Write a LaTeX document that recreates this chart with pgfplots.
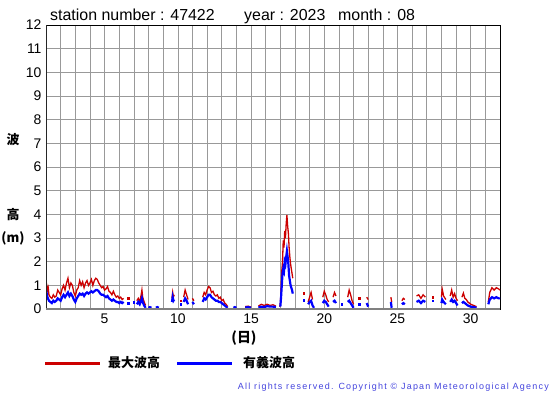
\documentclass[border=0pt]{standalone}
\usepackage{pgfplots}
\pgfplotsset{compat=1.18}
\usepackage{fontspec}
\setmainfont{Liberation Sans}
\newfontfamily\cjk{Noto Sans CJK JP}
\newfontfamily\cpy{Liberation Sans}[LetterSpace=14]
\definecolor{maxred}{HTML}{CC0000}
\definecolor{sigblue}{HTML}{0000FF}
\definecolor{gridgray}{HTML}{999999}
\definecolor{cpblue}{HTML}{4444DD}
\begin{document}
\begin{tikzpicture}[x=1bp,y=1bp]
\path[use as bounding box] (0,0) rectangle (555,395);
\begin{axis}[
  at={(46bp,86bp)}, anchor=south west,
  scale only axis, width=454bp, height=284bp,
  xmin=1, xmax=32, ymin=0, ymax=12,
  xtick={1,...,32},
  xticklabels={,,,,5,,,,,10,,,,,15,,,,,20,,,,,25,,,,,30,,},
  ytick={0,...,12},
  major tick length=0pt,
  grid=major,
  grid style={gridgray, line width=0.6bp},
  axis line style={black, line width=0.8bp},
  tick label style={font=\fontsize{14}{14}\selectfont},
  /pgf/number format/assume math mode=true,
  yticklabel style={xshift=-1bp},
  xticklabel style={yshift=-1bp},
  unbounded coords=jump,
  clip=true,
]
% maximum wave height (red)
\addplot[maxred, line width=1.3bp] table[row sep=\\] {
x y\\
1.00 0.85\\ 1.05 1.0\\ 1.1 0.8\\ 1.15 0.9\\ 1.2 0.6\\ 1.3 0.5\\ 1.4 0.45\\ 1.5 0.6\\ 1.6 0.5\\ 1.7 0.55\\ 1.8 0.8\\ 1.9 0.7\\ 2.0 0.6\\ 2.1 0.85\\ 2.2 1.0\\ 2.3 0.8\\ 2.4 1.1\\ 2.5 1.3\\ 2.6 0.9\\ 2.7 1.1\\ 2.8 1.0\\ 2.9 0.7\\ 3.0 0.55\\ 3.1 0.8\\ 3.2 0.9\\ 3.3 1.2\\ 3.4 1.0\\ 3.5 1.15\\ 3.6 0.9\\ 3.7 1.1\\ 3.8 1.2\\ 3.9 1.0\\ 4.0 1.1\\ 4.1 1.25\\ 4.2 1.0\\ 4.3 1.2\\ 4.4 1.3\\ 4.5 1.25\\ 4.6 1.1\\ 4.7 1.0\\ 4.8 0.9\\ 4.9 0.95\\ 5.0 0.8\\ 5.1 0.85\\ 5.2 0.95\\ 5.3 0.75\\ 5.4 0.7\\ 5.5 0.6\\ 5.6 0.75\\ 5.7 0.6\\ 5.8 0.5\\ 5.9 0.55\\ 6.0 0.45\\ 6.1 0.5\\ 6.2 0.4\\ 6.3 0.45\\
nan nan\\
7.2 0.35\\ 7.3 0.45\\ 7.4 0.3\\ 7.5 0.6\\ 7.55 0.8\\ 7.6 0.5\\ 7.7 0.3\\ 7.8 0.15\\
nan nan\\
9.6 0.45\\ 9.65 0.7\\ 9.7 0.5\\ 9.75 0.6\\
nan nan\\
10.4 0.5\\ 10.5 0.8\\ 10.6 0.6\\ 10.7 0.4\\
nan nan\\
11.0 0.45\\ 11.1 0.35\\
nan nan\\
11.7 0.5\\ 11.8 0.7\\ 11.9 0.6\\ 12.0 0.8\\ 12.1 0.95\\ 12.2 0.9\\ 12.3 0.7\\ 12.4 0.75\\ 12.5 0.6\\ 12.6 0.55\\ 12.7 0.6\\ 12.8 0.45\\ 12.9 0.5\\ 13.0 0.35\\ 13.1 0.4\\ 13.2 0.25\\ 13.3 0.2\\ 13.4 0.1\\
nan nan\\
14.6 0.1\\ 14.8 0.12\\ 15.0 0.08\\
nan nan\\
15.5 0.12\\ 15.7 0.2\\ 15.9 0.15\\ 16.1 0.2\\ 16.3 0.15\\ 16.5 0.18\\ 16.7 0.12\\
nan nan\\
16.95 0.1\\ 17.0 0.2\\ 17.05 0.8\\ 17.1 1.6\\ 17.15 2.0\\ 17.2 2.9\\ 17.25 2.6\\ 17.3 3.3\\ 17.35 3.0\\ 17.4 3.6\\ 17.45 3.97\\ 17.5 3.5\\ 17.55 3.2\\ 17.6 2.6\\ 17.65 2.2\\ 17.7 1.9\\ 17.75 1.7\\ 17.8 1.5\\ 17.85 1.3\\
nan nan\\
18.9 0.3\\ 19.0 0.5\\ 19.1 0.7\\ 19.2 0.4\\
nan nan\\
19.9 0.5\\ 20.0 0.75\\ 20.1 0.6\\ 20.2 0.4\\ 20.3 0.3\\
nan nan\\
20.6 0.5\\ 20.7 0.7\\ 20.8 0.55\\
nan nan\\
21.6 0.5\\ 21.7 0.8\\ 21.8 0.6\\ 21.9 0.35\\ 22.0 0.2\\
nan nan\\
22.9 0.5\\ 23.0 0.4\\
nan nan\\
24.55 0.5\\ 24.6 0.3\\
nan nan\\
25.3 0.35\\ 25.4 0.45\\ 25.5 0.4\\
nan nan\\
26.3 0.55\\ 26.45 0.6\\ 26.6 0.45\\ 26.75 0.6\\ 26.9 0.5\\
nan nan\\
28.0 0.5\\ 28.05 0.85\\ 28.15 0.55\\ 28.3 0.4\\
nan nan\\
28.6 0.55\\ 28.7 0.8\\ 28.8 0.5\\ 28.9 0.65\\ 29.0 0.45\\ 29.1 0.35\\
nan nan\\
29.4 0.5\\ 29.5 0.67\\ 29.6 0.45\\ 29.7 0.4\\ 29.8 0.3\\ 29.9 0.25\\ 30.0 0.2\\ 30.2 0.15\\ 30.4 0.1\\
nan nan\\
31.2 0.3\\ 31.3 0.7\\ 31.45 0.9\\ 31.6 0.8\\ 31.75 0.9\\ 31.9 0.85\\ 32.0 0.8\\
};
\addplot[only marks, mark=square*, mark size=0.8bp, maxred] table[row sep=\\] {
x y\\
6.6 0.45\\ 10.2 0.35\\ 18.6 0.67\\ 22.4 0.45\\ 27.4 0.5\\
};
% significant wave height (blue)
\addplot[sigblue, line width=2.2bp] table[row sep=\\] {
x y\\
1.0 0.55\\ 1.05 0.65\\ 1.1 0.5\\ 1.2 0.35\\ 1.3 0.3\\ 1.4 0.25\\ 1.5 0.35\\ 1.6 0.3\\ 1.7 0.35\\ 1.8 0.45\\ 1.9 0.4\\ 2.0 0.35\\ 2.1 0.5\\ 2.2 0.6\\ 2.3 0.5\\ 2.4 0.6\\ 2.5 0.7\\ 2.6 0.55\\ 2.7 0.65\\ 2.8 0.55\\ 2.9 0.4\\ 3.0 0.3\\ 3.1 0.45\\ 3.2 0.55\\ 3.3 0.65\\ 3.4 0.6\\ 3.5 0.65\\ 3.6 0.55\\ 3.7 0.65\\ 3.8 0.7\\ 3.9 0.65\\ 4.0 0.7\\ 4.1 0.75\\ 4.2 0.7\\ 4.3 0.75\\ 4.4 0.8\\ 4.5 0.8\\ 4.6 0.75\\ 4.7 0.65\\ 4.8 0.6\\ 4.9 0.6\\ 5.0 0.55\\ 5.1 0.5\\ 5.2 0.55\\ 5.3 0.45\\ 5.4 0.4\\ 5.5 0.35\\ 5.6 0.4\\ 5.7 0.35\\ 5.8 0.3\\ 5.9 0.3\\ 6.0 0.25\\ 6.1 0.3\\ 6.2 0.25\\ 6.3 0.3\\
nan nan\\
7.2 0.2\\ 7.3 0.3\\ 7.4 0.2\\ 7.5 0.35\\ 7.55 0.45\\ 7.6 0.3\\ 7.7 0.15\\ 7.8 0.05\\
nan nan\\
8.0 0.05\\ 8.1 0.08\\ 8.2 0.05\\
nan nan\\
8.5 0.06\\ 8.6 0.08\\ 8.7 0.05\\
nan nan\\
9.6 0.3\\ 9.65 0.5\\ 9.7 0.35\\ 9.75 0.4\\
nan nan\\
10.4 0.3\\ 10.5 0.45\\ 10.6 0.35\\ 10.7 0.2\\
nan nan\\
11.0 0.3\\ 11.1 0.2\\
nan nan\\
11.7 0.3\\ 11.8 0.45\\ 11.9 0.4\\ 12.0 0.5\\ 12.1 0.6\\ 12.2 0.6\\ 12.3 0.5\\ 12.4 0.45\\ 12.5 0.4\\ 12.6 0.35\\ 12.7 0.35\\ 12.8 0.3\\ 12.9 0.3\\ 13.0 0.25\\ 13.1 0.2\\ 13.2 0.15\\ 13.3 0.1\\ 13.4 0.05\\
nan nan\\
13.8 0.05\\ 13.9 0.08\\ 14.0 0.05\\
nan nan\\
14.6 0.06\\ 14.8 0.08\\ 15.0 0.05\\
nan nan\\
15.5 0.06\\ 15.7 0.1\\ 15.9 0.08\\ 16.1 0.12\\ 16.3 0.1\\ 16.5 0.1\\ 16.7 0.08\\
nan nan\\
17.0 0.1\\ 17.05 0.5\\ 17.1 1.0\\ 17.15 1.5\\ 17.2 1.7\\ 17.25 1.6\\ 17.3 2.0\\ 17.35 1.9\\ 17.4 2.2\\ 17.45 2.45\\ 17.5 2.2\\ 17.55 1.9\\ 17.6 1.4\\ 17.65 1.2\\ 17.7 1.0\\ 17.75 0.9\\ 17.8 0.8\\ 17.85 0.65\\
nan nan\\
18.9 0.2\\ 19.0 0.3\\ 19.1 0.35\\ 19.2 0.15\\ 19.3 0.05\\
nan nan\\
19.9 0.25\\ 20.0 0.35\\ 20.1 0.3\\ 20.2 0.2\\ 20.3 0.1\\
nan nan\\
20.6 0.3\\ 20.7 0.35\\ 20.8 0.25\\
nan nan\\
21.6 0.3\\ 21.7 0.35\\ 21.8 0.25\\ 21.9 0.15\\ 22.0 0.05\\
nan nan\\
22.9 0.25\\ 23.0 0.1\\
nan nan\\
24.55 0.3\\ 24.6 0.05\\
nan nan\\
25.3 0.2\\ 25.4 0.25\\ 25.5 0.2\\
nan nan\\
26.3 0.3\\ 26.45 0.35\\ 26.6 0.25\\ 26.75 0.35\\ 26.9 0.3\\
nan nan\\
28.0 0.25\\ 28.05 0.4\\ 28.15 0.3\\ 28.3 0.2\\
nan nan\\
28.6 0.3\\ 28.7 0.4\\ 28.8 0.3\\ 28.9 0.35\\ 29.0 0.25\\ 29.1 0.15\\
nan nan\\
29.4 0.25\\ 29.5 0.3\\ 29.6 0.25\\ 29.7 0.2\\ 29.8 0.15\\ 29.9 0.12\\ 30.0 0.1\\ 30.2 0.08\\ 30.4 0.05\\
nan nan\\
31.2 0.2\\ 31.3 0.4\\ 31.45 0.5\\ 31.6 0.45\\ 31.75 0.5\\ 31.9 0.45\\ 32.0 0.45\\
};
\addplot[only marks, mark=square*, mark size=0.8bp, sigblue] table[row sep=\\] {
x y\\
6.6 0.25\\ 7.0 0.3\\ 10.2 0.2\\ 18.6 0.38\\ 21.2 0.2\\ 22.4 0.2\\ 27.4 0.35\\
};
\draw[black!85, line width=1.6bp] (axis cs:1,0) -- (axis cs:1,12);
\draw[gray, line width=2bp] (axis cs:1,0) -- (axis cs:32,0);
\end{axis}
% title
\node[anchor=base west, font=\fontsize{16}{16}\selectfont, inner sep=0] at (50,375) {station number : 47422};
\node[anchor=base west, font=\fontsize{16}{16}\selectfont, inner sep=0] at (244,375) {year : 2023};
\node[anchor=base west, font=\fontsize{16}{16}\selectfont, inner sep=0] at (338,375) {month : 08};
% y label
\node[font=\cjk\bfseries\fontsize{13}{13}\selectfont] at (13,255) {波};
\node[font=\cjk\bfseries\fontsize{13}{13}\selectfont] at (13,180) {高};
\node[font=\cjk\bfseries\fontsize{13}{13}\selectfont] at (13,157) {(m)};
% x label
\node[font=\cjk\bfseries\fontsize{14}{14}\selectfont] at (244,57) {(日)};
% legend
\draw[maxred, line width=3bp] (45,32) -- (100,32);
\node[anchor=west, inner sep=0, font=\cjk\bfseries\fontsize{13}{13}\selectfont] at (108,32) {最大波高};
\draw[sigblue, line width=3bp] (177,32) -- (232,32);
\node[anchor=west, inner sep=0, font=\cjk\bfseries\fontsize{13}{13}\selectfont] at (243,32) {有義波高};
% copyright
\node[anchor=east, inner sep=0, text=cpblue, font=\cpy\fontsize{9}{9}\selectfont] at (549,8) {All rights reserved. Copyright \textcopyright\ Japan Meteorological Agency};
\end{tikzpicture}
\end{document}
